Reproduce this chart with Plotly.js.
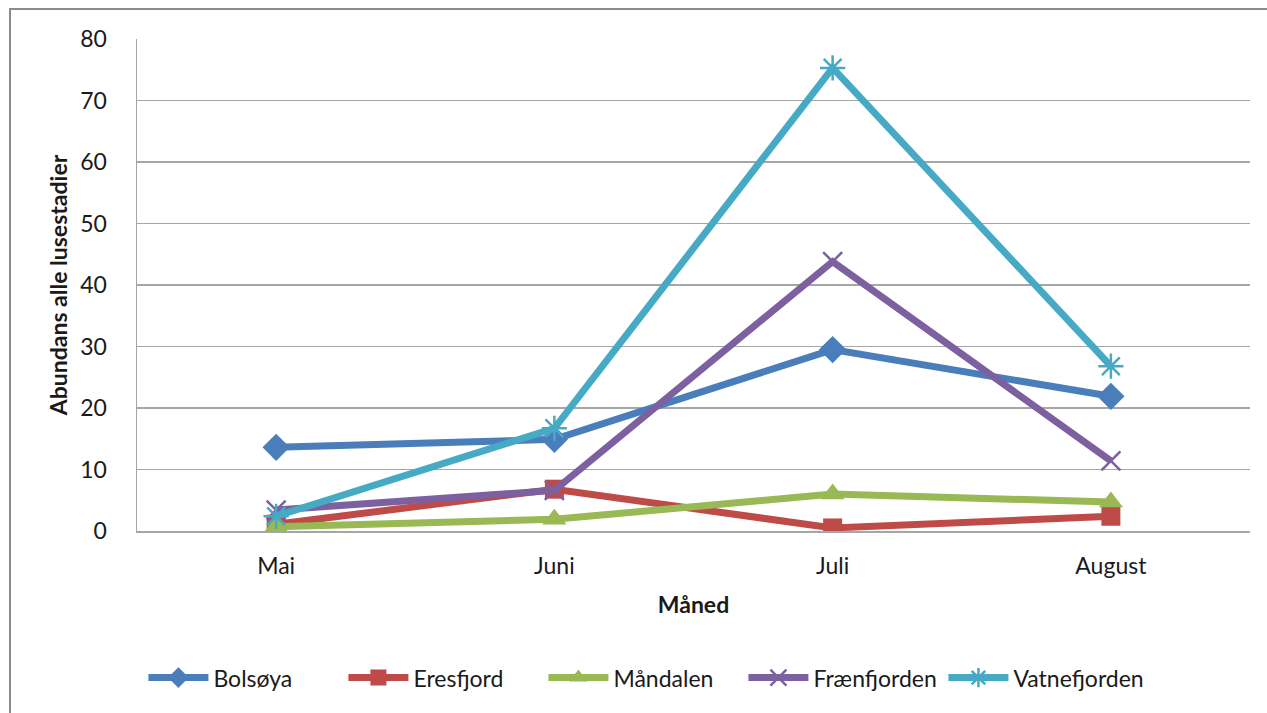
<!DOCTYPE html>
<html>
<head>
<meta charset="utf-8">
<script src="https://cdn.plot.ly/plotly-3.0.1.min.js"></script>
<style>
html, body { margin: 0; padding: 0; background: #ffffff; }
#wrap { position: relative; width: 1267px; height: 713px; overflow: hidden; }
#frame { position: absolute; left: 9px; top: 8px; width: 1300px; height: 760px; border-left: 2px solid #8c8c8c; border-top: 2px solid #8c8c8c; pointer-events: none; }
#chart { position: absolute; left: 0; top: 0; width: 1267px; height: 713px; }
</style>
</head>
<body>
<div id="wrap">
<div id="chart"></div>
<div id="frame"></div>
</div>
<script>
var months = ["Mai", "Juni", "Juli", "August"];
var seriesNames = ["Bolsøya", "Eresfjord", "Måndalen", "Frænfjorden", "Vatnefjorden"];
var bolsoya = [13.6, 14.9, 29.5, 21.9];
var eresfjord = [1.1, 6.8, 0.5, 2.4];
var mandalen = [0.7, 1.9, 6.0, 4.7];
var fraenfjorden = [3.4, 6.6, 43.8, 11.4];
var vatnefjorden = [2.4, 16.7, 75.3, 26.8];
var yTicks = [0, 10, 20, 30, 40, 50, 60, 70, 80];

var seriesValues = [bolsoya, eresfjord, mandalen, fraenfjorden, vatnefjorden];
var colors = ["#4a7ebb", "#be4b48", "#98b954", "#7d60a0", "#46aac5"];
var symbols = ["diamond", "square", "triangle-up", "x-thin-open", "asterisk-open"];
var sizes = [21, 19, 21, 19, 21];

var traces = seriesNames.map(function (name, i) {
  return {
    type: "scatter",
    mode: "lines+markers",
    name: name,
    x: months,
    y: seriesValues[i],
    line: { color: colors[i], width: 7 },
    marker: {
      symbol: symbols[i],
      size: sizes[i],
      color: colors[i],
      line: { color: colors[i], width: (i >= 3 ? 2.5 : 0) }
    }
  };
});

var font = "Lato, 'Open Sans', 'Liberation Sans', sans-serif";
var fs = 23;

var layout = {
  width: 1267,
  height: 713,
  margin: { l: 137, r: 17, t: 39, b: 182 },
  paper_bgcolor: "#ffffff",
  plot_bgcolor: "#ffffff",
  font: { family: font, size: fs, color: "#1a1a1a" },
  showlegend: true,
  legend: {
    orientation: "h",
    x: 0.455,
    xanchor: "center",
    y: -0.298,
    yanchor: "middle",
    itemwidth: 60,
    entrywidth: 125,
    entrywidthmode: "pixels",
    font: { family: font, size: fs, color: "#1a1a1a" },
    tracegroupgap: 0
  },
  xaxis: {
    type: "category",
    categoryorder: "array",
    categoryarray: months,
    range: [-0.5, 3.5],
    showgrid: false,
    zeroline: false,
    showline: true,
    linecolor: "#a6a6a6",
    linewidth: 1.5,
    ticks: "",
    ticklabelstandoff: 14,
    tickfont: { family: font, size: fs, color: "#1a1a1a" },
    title: { text: "<b>Måned</b>", font: { family: font, size: fs, color: "#1a1a1a" }, standoff: 19 }
  },
  yaxis: {
    range: [0, 80],
    tickvals: yTicks,
    ticktext: yTicks.map(String),
    showgrid: true,
    gridcolor: "#a6a6a6",
    gridwidth: 1.5,
    zeroline: false,
    showline: true,
    linecolor: "#a6a6a6",
    linewidth: 1.5,
    ticks: "",
    ticklabelstandoff: 24,
    tickfont: { family: font, size: fs, color: "#1a1a1a" },
    title: { text: "<b>Abundans alle lusestadier</b>", font: { family: font, size: fs, color: "#1a1a1a" }, standoff: 6 }
  }
};

Plotly.newPlot("chart", traces, layout, { displayModeBar: false, staticPlot: true });
</script>
</body>
</html>
